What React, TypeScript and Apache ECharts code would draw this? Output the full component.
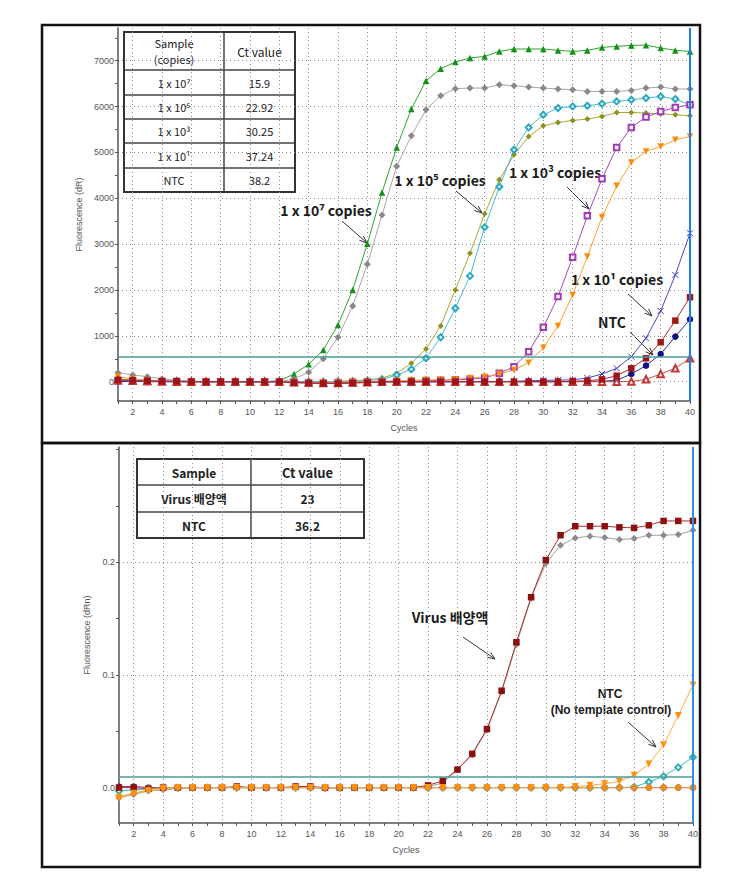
import React, { useEffect, useRef } from "react";
import * as echarts from "echarts";

// ---------- data ----------
const cycles = [1, 2, 3, 4, 5, 6, 7, 8, 9, 10, 11, 12, 13, 14, 15, 16, 17, 18, 19, 20, 21, 22, 23, 24, 25, 26, 27, 28, 29, 30, 31, 32, 33, 34, 35, 36, 37, 38, 39, 40];
const evenCycles = [2, 4, 6, 8, 10, 12, 14, 16, 18, 20, 22, 24, 26, 28, 30, 32, 34, 36, 38, 40];
const topYTicks = [0, 500, 1000, 1500, 2000, 2500, 3000, 3500, 4000, 4500, 5000, 5500, 6000, 6500, 7000, 7500];
const topYLabels = [0, 1000, 2000, 3000, 4000, 5000, 6000, 7000];
const bottomYTicks = [0, 0.05, 0.1, 0.15, 0.2, 0.25, 0.3];
const bottomYLabels = [0, 0.1, 0.2];
const topThreshold = 537;
const bottomThreshold = 0.008;
const endCycle = 40;

// top chart (dR)
const green1e7 = [30, 20, 15, 10, 10, 5, 5, 5, 0, 0, 0, 20, 168, 380, 692, 1238, 2002, 3006, 4126, 5108, 5946, 6564, 6826, 6972, 7060, 7095, 7204, 7256, 7256, 7256, 7226, 7204, 7226, 7291, 7313, 7335, 7340, 7278, 7226, 7204];
const gray1e7 = [196, 146, 110, 60, 30, 10, 0, 0, 0, -10, -10, 0, 60, 205, 502, 969, 1652, 2562, 3638, 4700, 5363, 5931, 6237, 6390, 6405, 6405, 6477, 6455, 6426, 6405, 6383, 6368, 6331, 6331, 6331, 6353, 6405, 6426, 6383, 6383];
const olive1e5 = [60, 40, 30, 20, 10, 10, 5, 0, 0, 0, 0, 0, 0, 0, 0, 10, 20, 40, 80, 183, 401, 714, 1216, 2002, 2803, 3661, 4403, 4949, 5348, 5582, 5654, 5698, 5728, 5785, 5872, 5872, 5858, 5843, 5822, 5800];
const cyan1e5 = [40, 30, 20, 10, 10, 5, 0, 0, 0, 0, 0, 0, 0, 0, 0, 5, 10, 25, 50, 146, 270, 510, 969, 1602, 2307, 3370, 4250, 5058, 5545, 5822, 5968, 6003, 6018, 6062, 6112, 6149, 6186, 6221, 6164, 6040];
const magenta1e3 = [20, 15, 10, 5, 5, 0, 0, 0, 0, 0, 0, 0, -20, -30, -30, -20, -10, 0, 0, 0, 10, 20, 30, 40, 55, 80, 183, 327, 655, 1187, 1856, 2716, 3617, 4425, 5108, 5545, 5771, 5894, 5981, 6040];
const orange1e3 = [110, 60, 30, 10, 0, 0, 0, 0, 0, 0, 0, 0, -10, -20, -20, -10, 0, 0, 10, 20, 30, 40, 45, 50, 80, 110, 168, 255, 415, 742, 1216, 1893, 2729, 3590, 4272, 4781, 5021, 5130, 5276, 5348];
const blue1e1 = [20, 10, 5, 0, 0, 0, 0, 0, 0, 0, 0, 0, -10, -20, -30, -30, -20, -10, 0, 0, 0, 0, 0, 0, 0, 0, 0, 10, 20, 30, 35, 40, 80, 168, 292, 546, 947, 1543, 2329, 3239];
const redSquare = [40, 30, 20, 10, 10, 0, 0, 0, 0, 0, 0, 0, -20, -30, -40, -40, -30, -20, -10, 0, 0, 0, 0, 0, 0, 0, 0, 0, 0, 0, 0, 10, 20, 50, 131, 292, 510, 860, 1332, 1842];
const navyCircle = [10, 5, 0, 0, 0, 0, 0, 0, 0, 0, 0, 0, -10, -20, -30, -30, -20, -10, 0, 0, 0, 0, 0, 0, 0, 0, 0, 0, 0, 0, 0, 0, 5, 10, 30, 168, 350, 605, 983, 1362];
const redTriangle = [30, 20, 10, 5, 0, 0, 0, 0, 0, 0, 0, 0, -10, -20, -30, -30, -20, -10, 0, 0, 0, 0, 0, 0, 0, 0, 0, 0, 0, 0, 0, 0, 0, 0, 0, 5, 52, 168, 292, 510];

// bottom chart (dRn)
const virusGray = [-0.009, -0.006, -0.003, -0.002, -0.001, 0, 0, 0, 0, 0, 0, 0, 0, 0, -0.001, 0, 0, 0, 0, 0, 0, 0.001, 0.004, 0.016, 0.029, 0.051, 0.085, 0.127, 0.168, 0.199, 0.215, 0.2216, 0.2231, 0.2219, 0.2201, 0.221, 0.224, 0.224, 0.2246, 0.2284];
const virusRed = [0, 0, -0.001, 0, 0, 0, 0, 0, 0.001, 0, 0, 0, 0.001, 0.001, 0, 0, 0, 0, 0, 0, 0, 0.002, 0.006, 0.016, 0.03, 0.052, 0.086, 0.129, 0.169, 0.202, 0.224, 0.232, 0.232, 0.232, 0.231, 0.2305, 0.2328, 0.2367, 0.2367, 0.2367];
const ntcOrange = [-0.009, -0.005, -0.003, -0.001, 0, 0, 0, 0, 0, 0, 0, 0, 0, 0, 0, 0, 0, 0, 0, 0, 0, 0, 0, 0, 0, 0, 0, 0, 0, 0, 0, 0.001, 0.002, 0.0035, 0.0056, 0.011, 0.021, 0.038, 0.064, 0.091];
const ntcCyan = [-0.003, -0.002, -0.001, 0, 0, 0, 0, 0, 0, 0, 0, 0, 0, 0, 0, 0, 0, 0, 0, 0, 0, 0, 0, 0, 0, 0, 0, 0, 0, 0, 0, 0, 0, 0, 0, 0.0005, 0.005, 0.01, 0.018, 0.027];
const flatPurple = [0.001, 0.001, 0, 0, 0, 0, 0, 0, 0, 0, 0, 0, 0, 0, 0, 0, 0, 0, 0, 0, 0, 0, 0, 0, 0, 0, 0, 0, 0, 0, 0, 0, 0, 0, 0, 0, 0, 0, 0, 0];
const flatOrange = [-0.008, -0.005, -0.002, 0, 0, 0, 0, 0, 0, 0, 0, 0, 0, 0, 0, 0, 0, 0, 0, 0, 0, 0, 0, 0, 0, 0, 0, 0, 0, 0, 0, 0, 0, 0, 0, 0, 0, 0, 0, 0];

const topTableRows = [
  ["Sample|(copies)", "Ct value"],
  ["1 x 10⁷", "15.9"],
  ["1 x 10⁵", "22.92"],
  ["1 x 10³", "30.25"],
  ["1 x 10¹", "37.24"],
  ["NTC", "38.2"],
];
const bottomTableRows = [
  ["Sample", "Ct value"],
  ["Virus 배양액", "23"],
  ["NTC", "36.2"],
];

// ---------- helpers ----------
const FONT_KR = '"Noto Sans CJK KR", "Noto Sans", sans-serif';
const FONT_AX = '"Liberation Sans", Arial, sans-serif';

function pts(vals: number[]) {
  return cycles.map((c, i) => [c, vals[i]]);
}

function lineSeries(name: string, vals: number[], o: any) {
  const outline = o.outline ? 1 : 0;
  return {
    name,
    type: "line",
    xAxisIndex: o.xi,
    yAxisIndex: o.yi,
    data: pts(vals),
    symbol: o.symbol,
    symbolSize: o.size ?? 7,
    symbolRotate: o.rotate ?? 0,
    showAllSymbol: true,
    silent: true,
    lineStyle: { color: o.lineColor ?? o.color, width: 1 },
    itemStyle: { color: o.color, borderColor: o.color, borderWidth: outline },
    markLine: o.markLine,
  };
}

function refLines(threshold: number, color: string) {
  return {
    silent: true,
    symbol: ["none", "none"],
    label: { show: false },
    data: [
      { yAxis: threshold, lineStyle: { color: "#4a9d9d", width: 1.6, type: "solid" } },
      { xAxis: endCycle, lineStyle: { color, width: 2, type: "solid" } },
    ],
  };
}

function arrow(x1: number, y1: number, x2: number, y2: number) {
  const ang = Math.atan2(y2 - y1, x2 - x1);
  const L = 8;
  const a = 0.38;
  return [
    { type: "line", shape: { x1, y1, x2, y2 }, style: { stroke: "#333", lineWidth: 1 } },
    {
      type: "polyline",
      shape: {
        points: [
          [x2 - L * Math.cos(ang - a), y2 - L * Math.sin(ang - a)],
          [x2, y2],
          [x2 - L * Math.cos(ang + a), y2 - L * Math.sin(ang + a)],
        ],
      },
      style: { stroke: "#333", fill: "none", lineWidth: 1 },
    },
  ];
}

function cellText(x: number, y: number, text: string, size: number, weight: string) {
  return {
    type: "text",
    x,
    y,
    style: { text, align: "center", verticalAlign: "middle", fill: "#222", fontSize: size, fontWeight: weight, fontFamily: FONT_KR },
  };
}

function table(x: number, y: number, colW: number[], rowH: number[], rows: string[][], font: any) {
  const els: any[] = [];
  const W = colW[0] + colW[1];
  const H = rowH.reduce((s, v) => s + v, 0);
  let cy = y;
  rows.forEach((r, ri) => {
    const h = rowH[ri];
    if (ri > 0) {
      els.push({ type: "line", shape: { x1: x, y1: cy, x2: x + W, y2: cy }, style: { stroke: "#444", lineWidth: 1.5 } });
    }
    const parts = r[0].split("|");
    const lh = font.size + 5;
    parts.forEach((p, pi) => {
      els.push(cellText(x + colW[0] / 2, cy + h / 2 + (pi - (parts.length - 1) / 2) * lh, p, font.size, font.weight));
    });
    els.push(cellText(x + colW[0] + colW[1] / 2, cy + h / 2, r[1], ri === 0 ? font.size + 1 : font.size, font.weight));
    cy += h;
  });
  els.push({ type: "line", shape: { x1: x + colW[0], y1: y, x2: x + colW[0], y2: y + H }, style: { stroke: "#444", lineWidth: 1.5 } });
  els.push({ type: "rect", shape: { x, y, width: W, height: H }, style: { fill: "none", stroke: "#333", lineWidth: 2 } });
  return els;
}

function label(x: number, y: number, text: string, size: number, family = FONT_KR) {
  return {
    type: "text",
    x,
    y,
    style: { text, align: "center", verticalAlign: "middle", fill: "#1a1a1a", fontSize: size, fontWeight: "bold", fontFamily: family },
  };
}

const axisLineStyle = { show: true, lineStyle: { color: "#555", width: 1.5 } };
const labelStyle = { color: "#555", fontSize: 9, fontFamily: FONT_AX };
const nameStyle = { color: "#555", fontSize: 9, fontFamily: FONT_AX };
const gridLineStyle = { show: true, lineStyle: { color: "#8a8a8a", width: 1, type: [1, 3] } };

function mainX(gi: number) {
  return {
    type: "value",
    gridIndex: gi,
    min: 1,
    max: 40,
    position: "bottom",
    axisLine: { ...axisLineStyle, onZero: false },
    axisTick: { show: true, length: 3, customValues: cycles, lineStyle: { color: "#555" } },
    axisLabel: { ...labelStyle, margin: 6, customValues: evenCycles, formatter: (v: number) => String(v) },
    splitLine: { show: false },
    name: "Cycles",
    nameLocation: "middle",
    nameGap: 22,
    nameTextStyle: nameStyle,
  };
}
function gridX(gi: number) {
  return {
    type: "value",
    gridIndex: gi,
    min: 1,
    max: 40,
    position: "top",
    axisLine: { show: false },
    axisTick: { show: false, customValues: evenCycles },
    axisLabel: { show: false },
    splitLine: gridLineStyle,
  };
}

export default function App() {
  const ref = useRef<HTMLDivElement>(null);
  useEffect(() => {
    document.body.style.margin = "0";
    const chart = echarts.init(ref.current!, null, { renderer: "svg" });

    const graphics: any[] = [
      { type: "rect", shape: { x: 42, y: 25, width: 658, height: 418 }, style: { fill: "none", stroke: "#111", lineWidth: 2.5 } },
      { type: "rect", shape: { x: 42, y: 443, width: 658, height: 424 }, style: { fill: "none", stroke: "#111", lineWidth: 2.5 } },
      ...table(124, 32, [100, 71], [38, 25, 24, 24, 25, 24], topTableRows, { size: 11, weight: "normal" }),
      ...table(137, 459, [114, 113], [26, 27, 26], bottomTableRows, { size: 12, weight: "bold" }),
      label(326, 210, "1 x 10⁷ copies", 14),
      ...arrow(342, 221, 367, 243),
      label(440, 180, "1 x 10⁵ copies", 14),
      ...arrow(456, 191, 482, 213),
      label(555, 172, "1 x 10³ copies", 14),
      ...arrow(567, 187, 589, 209),
      label(617, 279, "1 x 10¹ copies", 14),
      ...arrow(628, 294, 652, 316),
      label(612, 322, "NTC", 14),
      ...arrow(630, 332, 653, 355),
      label(450, 617, "Virus 배양액", 14),
      ...arrow(463, 637, 495, 659),
      label(610, 694, "NTC", 12, FONT_AX),
      label(611, 710, "(No template control)", 12, FONT_AX),
      ...arrow(628, 722, 656, 747),
    ];

    const option: any = {
      animation: false,
      backgroundColor: "#fff",
      grid: [
        { left: 118, top: 28, width: 572, height: 373 },
        { left: 119, top: 447, width: 574, height: 376 },
      ],
      xAxis: [mainX(0), mainX(1), gridX(0), gridX(1)],
      yAxis: [
        {
          type: "value",
          gridIndex: 0,
          min: -421,
          max: 7714,
          axisLine: { ...axisLineStyle, onZero: false },
          axisTick: { show: true, length: 3, customValues: topYTicks, lineStyle: { color: "#555" } },
          axisLabel: { ...labelStyle, margin: 4, customValues: topYLabels, formatter: (v: number) => String(v) },
          splitLine: { show: false },
          name: "Fluorescence (dR)",
          nameLocation: "middle",
          nameGap: 31,
          nameTextStyle: nameStyle,
        },
        {
          type: "value",
          gridIndex: 1,
          min: -0.0314,
          max: 0.3023,
          axisLine: { ...axisLineStyle, onZero: false },
          axisTick: { show: true, length: 3, customValues: bottomYTicks, lineStyle: { color: "#555" } },
          axisLabel: { ...labelStyle, margin: 4, customValues: bottomYLabels, formatter: (v: number) => v.toFixed(1) },
          splitLine: { show: false },
          name: "Fluorescence (dRn)",
          nameLocation: "middle",
          nameGap: 23,
          nameTextStyle: nameStyle,
        },
        {
          type: "value",
          gridIndex: 0,
          min: -421,
          max: 7714,
          position: "right",
          axisLine: { show: false },
          axisTick: { show: false, customValues: topYLabels },
          axisLabel: { show: false },
          splitLine: gridLineStyle,
        },
        {
          type: "value",
          gridIndex: 1,
          min: -0.0314,
          max: 0.3023,
          position: "right",
          axisLine: { show: false },
          axisTick: { show: false, customValues: bottomYLabels },
          axisLabel: { show: false },
          splitLine: gridLineStyle,
        },
      ],
      series: [
        lineSeries("1x10^5 a", olive1e5, { xi: 0, yi: 0, symbol: "diamond", size: 6, color: "#8f8f1c", lineColor: "#a8a838", markLine: refLines(topThreshold, "#1f7ee8") }),
        lineSeries("1x10^5 b", cyan1e5, { xi: 0, yi: 0, symbol: "emptyDiamond", size: 6, color: "#2aa9c4", lineColor: "#45bccf", outline: true }),
        lineSeries("1x10^7 a", green1e7, { xi: 0, yi: 0, symbol: "triangle", size: 6.5, color: "#15901a", lineColor: "#2ca52c" }),
        lineSeries("1x10^7 b", gray1e7, { xi: 0, yi: 0, symbol: "diamond", color: "#888888", lineColor: "#a6a6a6" }),
        lineSeries("1x10^3 a", magenta1e3, { xi: 0, yi: 0, symbol: "emptyRect", size: 5.5, color: "#a23cb6", lineColor: "#a84ab8", outline: true }),
        lineSeries("1x10^1", blue1e1, { xi: 0, yi: 0, symbol: "path://M0,0L10,10M10,0L0,10", size: 6, color: "#3b3bc6", lineColor: "#4848c8", outline: true }),
        lineSeries("NTC b", navyCircle, { xi: 0, yi: 0, symbol: "circle", size: 6.5, color: "#10107e", lineColor: "#2a2a9a" }),
        lineSeries("1x10^3 b", orange1e3, { xi: 0, yi: 0, symbol: "triangle", rotate: 180, size: 6.5, color: "#ff8a0a", lineColor: "#ff9d30" }),
        lineSeries("NTC c", redTriangle, { xi: 0, yi: 0, symbol: "emptyTriangle", size: 6.5, color: "#c03a3a", lineColor: "#c85050", outline: true }),
        lineSeries("NTC a", redSquare, { xi: 0, yi: 0, symbol: "rect", size: 6.5, color: "#a01414", lineColor: "#b02a2a" }),

        lineSeries("flat purple", flatPurple, { xi: 1, yi: 1, symbol: "circle", size: 6.5, color: "#6a2a6a", lineColor: "#8a3a7a", markLine: refLines(bottomThreshold, "#2f8fe0") }),
        lineSeries("NTC cyan", ntcCyan, { xi: 1, yi: 1, symbol: "emptyDiamond", size: 6, color: "#2fb0b0", lineColor: "#3fbcbc", outline: true }),
        lineSeries("Virus gray", virusGray, { xi: 1, yi: 1, symbol: "diamond", color: "#8c8c8c", lineColor: "#a0a0a0" }),
        lineSeries("Virus red", virusRed, { xi: 1, yi: 1, symbol: "rect", size: 6.5, color: "#8c1010", lineColor: "#b03030" }),
        lineSeries("flat orange", flatOrange, { xi: 1, yi: 1, symbol: "circle", size: 6.5, color: "#f08a20", lineColor: "#f0a040" }),
        lineSeries("NTC orange", ntcOrange, { xi: 1, yi: 1, symbol: "triangle", rotate: 180, size: 7, color: "#ff9010", lineColor: "#ffa840" }),
      ],
      graphic: { elements: graphics },
    };

    chart.setOption(option);
    return () => chart.dispose();
  }, []);
  return <div ref={ref} style={{ width: 740, height: 893 }} />;
}
